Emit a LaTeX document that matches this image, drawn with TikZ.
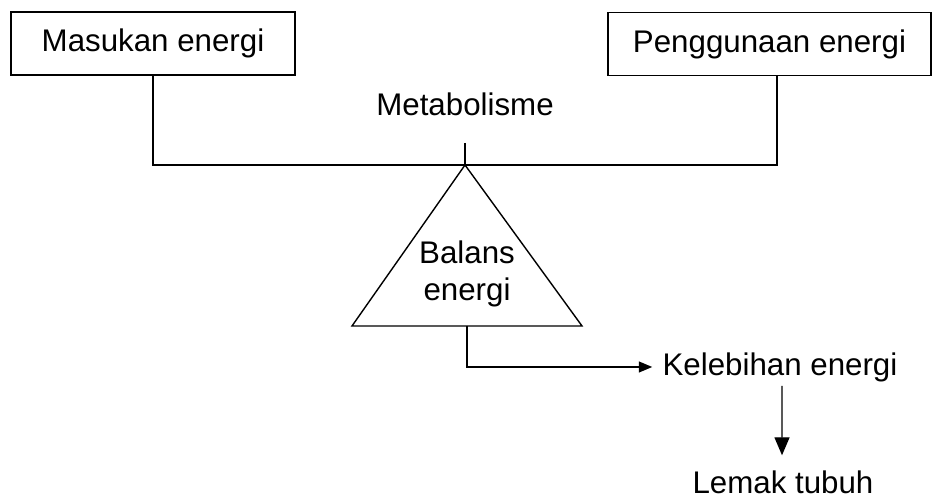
\documentclass[tikz,border=0pt]{standalone}
\usepackage{fontspec}
\setmainfont{Liberation Sans}
\usetikzlibrary{arrows.meta}
\tikzset{
	box/.style={draw,line width=0.9pt,minimum height=1.26cm,inner sep=0pt},
	lbl/.style={inner xsep=5.5pt,inner ysep=2pt},
	arr/.style={-{Triangle[length=0.27cm,width=0.22cm]}},
	arrbig/.style={-{Triangle[length=0.36cm,width=0.3cm]}}
}
\begin{document}
\begin{tikzpicture}[line width=0.8pt,font=\fontsize{17.8}{21}\selectfont]
			\useasboundingbox (0,0) rectangle (18.66,10);
			\node [box,minimum width=5.68cm] (N1) at (3.06,9.13) {Masukan energi};
			\node [box,minimum width=6.46cm] (N2) at (15.39,9.12) {Penggunaan energi};
			\node [lbl] (N3) at (9.3,7.92) {Metabolisme};
			\node [lbl,align=center] (N4) at (9.34,4.53) {Balans\\energi};
			\node [lbl] (N5) at (15.6,2.66) {Kelebihan energi};
			\node [lbl] (N6) at (15.66,0.36) {Lemak tubuh};
			
			\coordinate (T) at (9.3,6.7);
			\coordinate (M) at (9.3,7.14);
			\coordinate (BL) at (7.04,3.48);
			\coordinate (BR) at (11.64,3.48);
			\coordinate (B) at (9.34,3.48);
			
			\draw (N1.south) |- (T) -| ([xshift=0.15cm]N2.south);
			\draw (M) -- (T);
			\draw [line join=miter] (T) -- (BL) -- (BR) -- cycle;
			\draw [arr] (B) |- (N5.west);
			\draw [arrbig,shorten >=0.22cm] ([xshift=0.04cm]N5.south) -- ([xshift=-0.02cm]N6.north);
		\end{tikzpicture}
\end{document}
